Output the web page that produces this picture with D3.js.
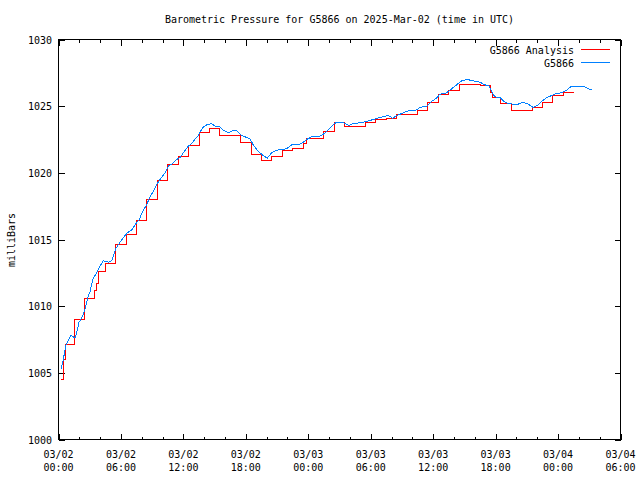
<!DOCTYPE html>
<html><head><meta charset="utf-8">
<script src="https://cdn.jsdelivr.net/npm/d3@7"></script>
<style>body{margin:0;background:#fff}svg{display:block}text{font-family:"DejaVu Sans Mono",monospace;font-size:10px;fill:#000}</style>
</head><body><svg id="c" width="640" height="480"></svg>
<script>
const title = "Barometric Pressure for G5866 on 2025-Mar-02 (time in UTC)";
const yLabel = "milliBars";
const seriesNames = ["G5866 Analysis", "G5866"];
const seriesColors = ["#ff0000", "#0080ff"];
const yTicks = [1000, 1005, 1010, 1015, 1020, 1025, 1030];
const xTickHours = [0, 6, 12, 18, 24, 30, 36, 42, 48, 54];
const xTickLabels = [["03/02","00:00"],["03/02","06:00"],["03/02","12:00"],["03/02","18:00"],["03/03","00:00"],["03/03","06:00"],["03/03","12:00"],["03/03","18:00"],["03/04","00:00"],["03/04","06:00"]];
// hours after 2025-03-02 00:00 UTC
const analysisHours = [0.24,0.5,0.72,1.5,2.5,3.5,3.65,3.82,4.5,5.5,6.5,7.5,8.5,9.5,10.5,11.5,12.5,13.5,14.5,15.5,16.5,17.5,18.5,19.5,20.5,21.5,22.5,23.5,23.8,24.5,25.5,26.5,27.5,28.5,29.5,30.5,31.5,32.5,33.5,34.5,35.5,36.5,37.5,38.5,39.5,40.5,41.55,41.7,42.5,43.5,44.5,45.5,46.5,47.5,48.5,49.5];
const analysisValues = [1004.5,1006.0,1007.1,1009.0,1010.6,1011.2,1011.7,1012.6,1013.2,1014.6,1015.4,1016.4,1018.0,1019.4,1020.6,1021.2,1022.05,1023.0,1023.3,1022.8,1022.8,1022.3,1021.4,1020.95,1021.25,1021.65,1021.85,1022.2,1022.6,1022.6,1023.1,1023.8,1023.5,1023.5,1023.75,1024.0,1024.05,1024.35,1024.35,1024.7,1025.25,1025.9,1026.2,1026.6,1026.6,1026.55,1026.05,1025.65,1025.2,1024.7,1024.7,1024.9,1025.3,1025.8,1026.0,1026.0];
const obsHours = [0.24,0.46,0.69,0.85,1.20,1.42,1.59,1.81,1.97,2.23,2.48,2.64,2.80,3.03,3.34,3.67,3.99,4.30,4.78,5.11,5.49,5.91,6.29,6.61,7.03,7.44,7.76,8.09,8.47,8.79,9.17,9.49,9.85,10.23,10.55,10.97,11.35,11.74,12.08,12.47,12.80,13.18,13.43,13.85,14.24,14.72,15.03,15.51,15.83,16.31,16.79,17.12,17.60,18.08,18.40,18.71,19.19,19.67,20.06,20.48,20.96,21.44,21.92,22.40,22.88,23.36,23.84,24.32,24.80,25.28,25.76,26.24,26.72,27.20,27.52,27.93,28.32,28.96,29.61,30.24,30.88,31.68,32.10,32.55,32.97,33.45,33.83,34.25,34.73,35.37,35.85,36.33,36.65,37.29,37.77,38.25,38.73,39.27,39.85,40.49,40.97,41.38,41.61,41.93,42.41,42.80,43.21,43.69,44.17,44.65,45.13,45.61,46.09,46.42,46.83,47.38,47.86,48.34,48.82,49.30,49.78,50.26,50.58,50.90,51.32];
const obsValues = [1005.3,1006.0,1007.0,1007.3,1007.8,1007.7,1007.6,1008.2,1008.8,1009.1,1009.6,1010.1,1010.6,1011.1,1012.1,1012.5,1013.0,1013.4,1013.3,1013.4,1014.3,1014.8,1015.2,1015.5,1015.7,1016.2,1016.5,1017.1,1017.6,1018.2,1018.7,1019.2,1019.6,1020.0,1020.5,1020.7,1021.0,1021.2,1021.6,1022.0,1022.2,1022.6,1022.8,1023.4,1023.6,1023.7,1023.5,1023.45,1023.2,1023.0,1023.2,1023.15,1022.8,1022.65,1022.55,1022.1,1021.6,1021.3,1021.1,1021.5,1021.7,1021.75,1021.8,1022.1,1022.1,1022.2,1022.5,1022.7,1022.7,1022.8,1023.1,1023.5,1023.8,1023.8,1023.7,1023.55,1023.7,1023.75,1023.85,1024.0,1024.15,1024.3,1024.1,1024.3,1024.45,1024.6,1024.7,1024.65,1024.9,1025.0,1025.35,1025.6,1025.9,1026.0,1026.3,1026.6,1026.9,1027.0,1026.9,1026.8,1026.6,1026.5,1026.1,1025.7,1025.65,1025.35,1025.2,1025.15,1025.15,1025.3,1025.15,1024.9,1025.1,1025.35,1025.6,1025.8,1025.95,1026.0,1026.2,1026.5,1026.5,1026.5,1026.45,1026.3,1026.2];

const t0 = Date.UTC(2025, 2, 2, 0);
const toDate = h => new Date(t0 + h * 3600e3);
const L = 58.5, R = 620.5, T = 39.5, B = 439.5;
const x = d3.scaleUtc().domain([toDate(0), toDate(54)]).range([L, R]);
const y = d3.scaleLinear().domain([1000, 1030]).range([B, T]);
const svg = d3.select("#c");

// ticks
const g = svg.append("g").attr("stroke", "#000").attr("shape-rendering", "crispEdges");
const minorHours = d3.range(0, 55, 2).filter(h => h % 6 !== 0);
minorHours.forEach(h => {
  const xx = Math.round(x(toDate(h))) + 0.5;
  g.append("line").attr("x1", xx).attr("x2", xx).attr("y1", B).attr("y2", B - 3);
  g.append("line").attr("x1", xx).attr("x2", xx).attr("y1", T).attr("y2", T + 3);
});
xTickHours.forEach(h => {
  const xx = Math.round(x(toDate(h))) + 0.5;
  g.append("line").attr("x1", xx).attr("x2", xx).attr("y1", B).attr("y2", B - 6);
  g.append("line").attr("x1", xx).attr("x2", xx).attr("y1", T).attr("y2", T + 6);
});
yTicks.forEach(v => {
  const yy = Math.round(y(v)) + 0.5;
  g.append("line").attr("x1", L).attr("x2", L + 6).attr("y1", yy).attr("y2", yy);
  g.append("line").attr("x1", R).attr("x2", R - 6).attr("y1", yy).attr("y2", yy);
});

// tick labels
yTicks.forEach(v => {
  svg.append("text").attr("x", 52).attr("y", y(v) + 4).attr("text-anchor", "end").text(v);
});
xTickHours.forEach((h, i) => {
  const xx = x(toDate(h));
  svg.append("text").attr("x", xx).attr("y", 458).attr("text-anchor", "middle").text(xTickLabels[i][0]);
  svg.append("text").attr("x", xx).attr("y", 471).attr("text-anchor", "middle").text(xTickLabels[i][1]);
});

// title & y label
svg.append("text").attr("x", (L + R) / 2).attr("y", 23).attr("text-anchor", "middle").text(title);
svg.append("text").attr("transform", "translate(15,240) rotate(-90)").attr("text-anchor", "middle").text(yLabel);

// series
const red = analysisHours.map((h, i) => [toDate(h), analysisValues[i]]);
const blue = obsHours.map((h, i) => [toDate(h), obsValues[i]]);
svg.append("path").datum(red).attr("fill", "none").attr("stroke", seriesColors[0]).attr("stroke-width", 1)
  .attr("shape-rendering", "crispEdges")
  .attr("d", d3.line().x(d => x(d[0])).y(d => y(d[1])).curve(d3.curveStepAfter));
svg.append("path").datum(blue).attr("fill", "none").attr("stroke", seriesColors[1]).attr("stroke-width", 1)
  .attr("shape-rendering", "crispEdges")
  .attr("d", d3.line().x(d => x(d[0])).y(d => y(d[1])));

// frame
svg.append("rect").attr("x", L).attr("y", T).attr("width", R - L).attr("height", B - T)
  .attr("fill", "none").attr("stroke", "#000").attr("shape-rendering", "crispEdges");

// legend
seriesNames.forEach((n, i) => {
  const ly = 49.5 + i * 13;
  svg.append("text").attr("x", 574).attr("y", ly + 4).attr("text-anchor", "end").text(n);
  svg.append("line").attr("x1", 581).attr("x2", 610).attr("y1", ly).attr("y2", ly)
    .attr("stroke", seriesColors[i]).attr("shape-rendering", "crispEdges");
});
</script></body></html>
